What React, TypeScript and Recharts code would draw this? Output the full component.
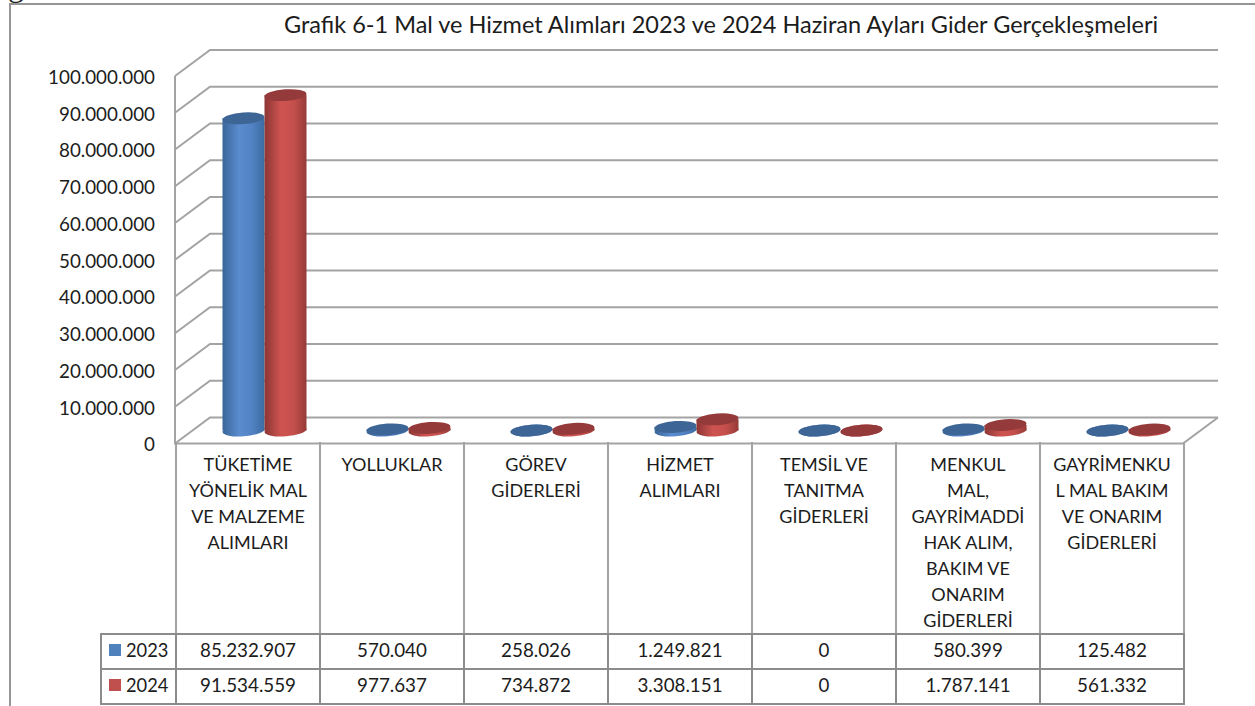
import React from "react";
import { BarChart, Bar, XAxis, YAxis, CartesianGrid } from "recharts";

const categories = [
  "TÜKETİME YÖNELİK MAL VE MALZEME ALIMLARI",
  "YOLLUKLAR",
  "GÖREV GİDERLERİ",
  "HİZMET ALIMLARI",
  "TEMSİL VE TANITMA GİDERLERİ",
  "MENKUL MAL, GAYRİMADDİ HAK ALIM, BAKIM VE ONARIM GİDERLERİ",
  "GAYRİMENKUL MAL BAKIM VE ONARIM GİDERLERİ",
];
// line breaks as they fall in the picture's table header
const categoryLines = [
  ["TÜKETİME", "YÖNELİK MAL", "VE MALZEME", "ALIMLARI"],
  ["YOLLUKLAR"],
  ["GÖREV", "GİDERLERİ"],
  ["HİZMET", "ALIMLARI"],
  ["TEMSİL VE", "TANITMA", "GİDERLERİ"],
  ["MENKUL", "MAL,", "GAYRİMADDİ", "HAK ALIM,", "BAKIM VE", "ONARIM", "GİDERLERİ"],
  ["GAYRİMENKU", "L MAL BAKIM", "VE ONARIM", "GİDERLERİ"],
];
const values2023 = [85232907, 570040, 258026, 1249821, 0, 580399, 125482];
const values2024 = [91534559, 977637, 734872, 3308151, 0, 1787141, 561332];
const yTicks = [0, 10000000, 20000000, 30000000, 40000000, 50000000, 60000000, 70000000, 80000000, 90000000, 100000000];

const title = "Grafik 6-1 Mal ve Hizmet Alımları 2023 ve 2024 Haziran Ayları Gider Gerçekleşmeleri";
const FONT = "Lato, sans-serif";
const NUM_SIZE = 18.8;
const LABEL_SIZE = 18;
const TEXT = "#1c1c1c";
const GRID = "#a3a3a3";
const TABLE_LINE = "#8c8c8c";

// half of the fake 3D depth: the bars stand on the mid plane
const DX = 17.5;
const DY = 13;
const PLOT_LEFT = 192.5;
const PLOT_W = 1008;
const PLOT_TOP = 63;
const PLOT_H = 367.5;
const RY = 5.8;
const TILT = -4;

const data = categories.map((name, i) => ({
  name,
  y2023: values2023[i],
  y2024: values2024[i],
}));

const fmt = (n: number) => n.toLocaleString("de-DE");

function Cylinder(props: any) {
  const { x, y, width, height, gradient, top } = props;
  const rx = width / 2;
  const cx = x + rx;
  const bottom = y + height;
  const topY = y + Math.min(1, height);
  return (
    <g>
      <ellipse cx={cx} cy={bottom} rx={rx} ry={RY} fill={`url(#${gradient})`} transform={`rotate(${TILT} ${cx} ${bottom})`} />
      <rect x={x} y={topY} width={width} height={Math.max(0, bottom - topY)} fill={`url(#${gradient})`} />
      <ellipse cx={cx} cy={topY} rx={rx} ry={RY} fill={top} transform={`rotate(${TILT} ${cx} ${topY})`} />
    </g>
  );
}

// grid line runs along the side wall and then along the back wall
function GridLine(props: any) {
  const { y1 } = props;
  const x0 = PLOT_LEFT - DX;
  const xb = PLOT_LEFT + DX;
  return (
    <path
      d={`M${x0},${y1 + DY} L${xb},${y1 - DY} L${xb + PLOT_W},${y1 - DY}`}
      fill="none"
      stroke={GRID}
      strokeWidth={2}
    />
  );
}

function YTick(props: any) {
  const { x, y, payload } = props;
  return (
    <text x={x} y={y + DY + 2} dy={1} textAnchor="end" dominantBaseline="middle" fontFamily={FONT} fontSize={NUM_SIZE} fill={TEXT}>
      {fmt(payload.value)}
    </text>
  );
}

function Floor() {
  const y = PLOT_TOP + PLOT_H;
  const x0 = PLOT_LEFT - DX;
  const d =
    `M${x0},${PLOT_TOP + DY} L${x0},${y + DY} L${x0 + PLOT_W},${y + DY} ` +
    `L${x0 + PLOT_W + 2 * DX},${y - DY}`;
  return (
    <svg width={1255} height={706} style={{ position: "absolute", left: 0, top: 0, pointerEvents: "none" }}>
      <path d={d} fill="none" stroke={GRID} strokeWidth={2} />
    </svg>
  );
}

const cell: React.CSSProperties = {
  border: `2px solid ${TABLE_LINE}`,
  textAlign: "center",
  padding: "0 0 3px",
  color: TEXT,
  boxSizing: "border-box",
  height: 35,
  lineHeight: "28px",
  fontSize: NUM_SIZE,
};

function DataRow({ label, color, values }: { label: string; color: string; values: number[] }) {
  return (
    <tr>
      <td style={{ ...cell, fontSize: 18.3 }}>
        <span style={{ display: "flex", alignItems: "center", paddingLeft: 7 }}>
          <span style={{ width: 12, height: 12, background: color, marginRight: 5 }} />
          {label}
        </span>
      </td>
      {values.map((v, i) => (
        <td key={i} style={cell}>
          {fmt(v)}
        </td>
      ))}
    </tr>
  );
}

function DataTable() {
  return (
    <table
      style={{
        position: "absolute",
        left: 100,
        top: 442,
        width: 1083,
        tableLayout: "fixed",
        borderCollapse: "collapse",
        fontFamily: FONT,
        fontSize: LABEL_SIZE,
      }}
    >
      <colgroup>
        <col style={{ width: 75 }} />
        {categories.map((c) => (
          <col key={c} style={{ width: 144 }} />
        ))}
      </colgroup>
      <tbody>
        <tr>
          <td style={{ border: "none" }} />
          {categoryLines.map((lines, i) => (
            <td
              key={i}
              style={{
                borderLeft: "2px solid #a3a3a3",
                borderRight: "2px solid #a3a3a3",
                borderBottom: `2px solid ${TABLE_LINE}`,
                boxSizing: "border-box",
                height: 190,
                verticalAlign: "top",
                textAlign: "center",
                padding: "9px 0 0",
                lineHeight: "26px",
                color: TEXT,
              }}
            >
              {lines.map((l) => (
                <div key={l}>{l}</div>
              ))}
            </td>
          ))}
        </tr>
        <DataRow label="2023" color="#4f81bd" values={values2023} />
        <DataRow label="2024" color="#c0504d" values={values2024} />
      </tbody>
    </table>
  );
}

export default function App() {
  return (
    <div style={{ position: "absolute", left: 0, top: 0, width: 1255, height: 706, overflow: "hidden", background: "#fff" }}>
      <div
        style={{
          position: "absolute",
          left: 9,
          top: 3,
          width: 1300,
          height: 800,
          border: "2px solid #969696",
        }}
      />
      <div style={{ position: "absolute", left: 8, top: -33, fontFamily: "Liberation Serif", fontSize: 32, color: "#222" }}>g</div>
      <div
        style={{
          position: "absolute",
          left: 121,
          width: 1200,
          top: 10,
          textAlign: "center",
          fontFamily: FONT,
          fontSize: 23.5,
          lineHeight: "28px",
          color: TEXT,
        }}
      >
        {title}
      </div>
      <div style={{ position: "absolute", left: 0, top: 0 }}>
        <BarChart
          width={1255}
          height={706}
          data={data}
          barGap={0}
          barCategoryGap={30}
          margin={{ top: PLOT_TOP, bottom: 706 - PLOT_TOP - PLOT_H, left: PLOT_LEFT - 60, right: 1255 - PLOT_LEFT - PLOT_W }}
        >
          <defs>
            <linearGradient id="cylBlue" x1="0" y1="0" x2="1" y2="0">
              <stop offset="0" stopColor="#3a6699" />
              <stop offset="0.4" stopColor="#5a8ccf" />
              <stop offset="0.7" stopColor="#5182c2" />
              <stop offset="1" stopColor="#3d6ca3" />
            </linearGradient>
            <linearGradient id="cylRed" x1="0" y1="0" x2="1" y2="0">
              <stop offset="0" stopColor="#8c3634" />
              <stop offset="0.4" stopColor="#cf5451" />
              <stop offset="0.7" stopColor="#c44f4c" />
              <stop offset="1" stopColor="#953b39" />
            </linearGradient>
          </defs>
          <CartesianGrid vertical={false} horizontal={GridLine as any} syncWithTicks />
          <XAxis dataKey="name" tick={false} axisLine={false} tickLine={false} height={0} />
          <YAxis
            width={60}
            domain={[0, 100000000]}
            ticks={yTicks}
            interval={0}
            axisLine={false}
            tickLine={false}
            tickSize={0}
            tickMargin={0}
            tick={(p: any) => <YTick {...p} x={155} />}
          />
          <Bar dataKey="y2023" isAnimationActive={false} shape={(p: any) => <Cylinder {...p} gradient="cylBlue" top="#3d6596" />} />
          <Bar dataKey="y2024" isAnimationActive={false} shape={(p: any) => <Cylinder {...p} gradient="cylRed" top="#953a3a" />} />
        </BarChart>
      </div>
      <Floor />
      <DataTable />
    </div>
  );
}
